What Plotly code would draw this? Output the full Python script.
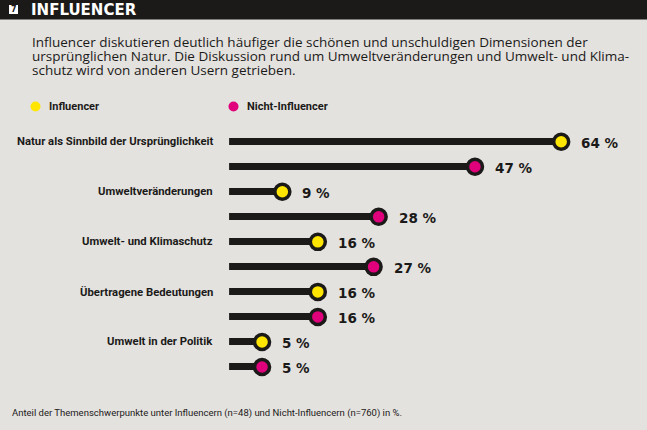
import plotly.graph_objects as go

categories = ["Natur als Sinnbild der Ursprünglichkeit", "Umweltveränderungen",
              "Umwelt- und Klimaschutz", "Übertragene Bedeutungen", "Umwelt in der Politik"]
influencer = [64, 9, 16, 16, 5]
nicht_influencer = [47, 28, 27, 16, 5]
series_names = ["Influencer", "Nicht-Influencer"]

W, H = 647, 430
BG = "#e4e2df"
DARK = "#1b1a19"
YELLOW = "#ffe500"
MAGENTA = "#e0007c"

# rows: influencer row then nicht-influencer row per category
rows_val, rows_col, rows_y = [], [], []
for i, (a, b) in enumerate(zip(influencer, nicht_influencer)):
    rows_val += [a, b]
    rows_col += [YELLOW, MAGENTA]
    rows_y += [2 * i, 2 * i + 1]

BASE = -1.5  # bars start slightly left of zero
fig = go.Figure()
fig.add_trace(go.Bar(
    y=rows_y, x=[v - BASE for v in rows_val], base=BASE, orientation="h",
    width=0.29, marker=dict(color=DARK, line=dict(width=0)), hoverinfo="skip", showlegend=False))
fig.add_trace(go.Scatter(
    y=rows_y, x=rows_val, mode="markers",
    marker=dict(size=15, color=rows_col, line=dict(color=DARK, width=3.5)),
    showlegend=False, cliponaxis=False))

for v, y in zip(rows_val, rows_y):
    fig.add_annotation(x=v, y=y, xref="x", yref="y", text=f"<b>{v} %</b>", showarrow=False,
                       xanchor="left", yanchor="middle", xshift=18, yshift=-1,
                       font=dict(family="DejaVu Sans", size=13.5, color=DARK))

for i, c in enumerate(categories):
    fig.add_annotation(x=215 / W, y=2 * i, xref="paper", yref="y", text=f"<b>{c}</b>",
                       showarrow=False, xanchor="right", yanchor="middle",
                       font=dict(family="Roboto", size=11.3, color=DARK))

# header band
fig.add_shape(type="rect", xref="paper", yref="paper", x0=0, x1=1, y0=1 - 19.5 / H, y1=1,
              fillcolor=DARK, line=dict(width=0), layer="below")
fig.add_shape(type="rect", xref="paper", yref="paper", x0=9 / W, x1=18 / W,
              y0=1 - 14 / H, y1=1 - 5 / H, fillcolor="white", line=dict(width=0))
fig.add_annotation(x=13.5 / W, y=1 - 9.5 / H, xref="paper", yref="paper", text="<b>7</b>",
                   showarrow=False, xanchor="center", yanchor="middle",
                   font=dict(family="DejaVu Sans", size=8, color=DARK))
fig.add_annotation(x=29 / W, y=1 - 10 / H, xref="paper", yref="paper", text="<b>INFLUENCER</b>",
                   showarrow=False, xanchor="left", yanchor="middle",
                   font=dict(family="DejaVu Sans", size=15, color="white"))

subtitle_lines = ["Influencer diskutieren deutlich häufiger die schönen und unschuldigen Dimensionen der",
                  "ursprünglichen Natur. Die Diskussion rund um Umweltveränderungen und Umwelt- und Klima-",
                  "schutz wird von anderen Usern getrieben."]
for k, line in enumerate(subtitle_lines):
    fig.add_annotation(x=30 / W, y=1 - (42.5 + 13.7 * k) / H, xref="paper", yref="paper", text=line,
                       showarrow=False, xanchor="left", yanchor="middle", align="left",
                       font=dict(family="Open Sans", size=13.5, color=DARK))

# legend
for name, col, lx in zip(series_names, [YELLOW, MAGENTA], [35.5, 233.5]):
    fig.add_shape(type="circle", xref="paper", yref="paper",
                  x0=(lx - 5) / W, x1=(lx + 5) / W, y0=1 - 111.5 / H, y1=1 - 101.5 / H,
                  fillcolor=col, line=dict(width=0))
    fig.add_annotation(x=(lx + 11) / W, y=1 - 107 / H, xref="paper", yref="paper",
                       text=f"<b>{name}</b>", showarrow=False, xanchor="left", yanchor="middle",
                       font=dict(family="Roboto", size=11, color=DARK))

fig.add_annotation(x=10 / W, y=1 - 413 / H, xref="paper", yref="paper",
                   text="Anteil der Themenschwerpunkte unter Influencern (n=48) und Nicht-Influencern (n=760) in %.",
                   showarrow=False, xanchor="left", yanchor="middle",
                   font=dict(family="Roboto", size=9.5, color=DARK))

px_per = 5.07
x0px = 236.7
xr = [BASE, 80]
fig.update_layout(
    width=W, height=H, paper_bgcolor=BG, plot_bgcolor=BG,
    margin=dict(l=0, r=0, t=0, b=0), showlegend=False, bargap=0,
    xaxis=dict(range=xr, domain=[(x0px + BASE * px_per) / W, (x0px + xr[1] * px_per) / W],
               visible=False, fixedrange=True),
    yaxis=dict(range=[9.5, -0.5], domain=[1 - 379.5 / H, 1 - 129.2 / H], visible=False),
)
fig.write_html("out.html", config={"displayModeBar": False},
               post_script="document.body.style.margin='0';document.body.style.background='" + BG + "';")
